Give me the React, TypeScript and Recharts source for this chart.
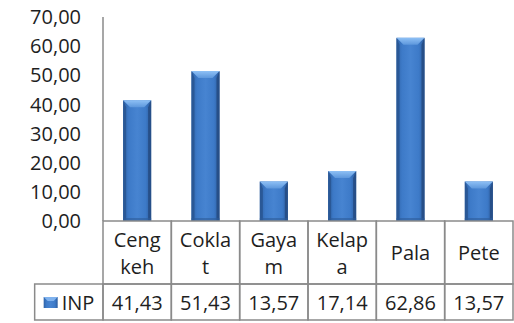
import { BarChart, Bar, XAxis, YAxis } from 'recharts';

const categories = ['Cengkeh', 'Coklat', 'Gayam', 'Kelapa', 'Pala', 'Pete'];
const labelLines = [['Ceng', 'keh'], ['Cokla', 't'], ['Gaya', 'm'], ['Kelap', 'a'], ['Pala'], ['Pete']];
const inpValues = [41.43, 51.43, 13.57, 17.14, 62.86, 13.57];
const yTicks = [0, 10, 20, 30, 40, 50, 60, 70];
const seriesName = 'INP';

const data = categories.map((name, i) => ({ name, inp: inpValues[i] }));

const FONT = '"Open Sans", sans-serif';
const TEXT = '#1e1e1e';
const BORDER = '#8a8a8a';
const ROW1 = 63;
const ROW2 = 36;

const fmt = (v: number) => v.toFixed(2).replace('.', ',');

function BevelBar(props: any) {
  const { x, y, width, height } = props;
  if (!height || height <= 0) return null;
  const b = Math.min(7, height / 2);
  const s = 3;
  return (
    <g>
      <rect x={x} y={y} width={width} height={height} fill="url(#barBody)" />
      <polygon points={`${x},${y} ${x + s},${y + b} ${x + s},${y + height} ${x},${y + height}`} fill="#2a5896" />
      <polygon points={`${x + width},${y} ${x + width - s},${y + b} ${x + width - s},${y + height} ${x + width},${y + height}`} fill="#274f88" />
      <polygon points={`${x},${y} ${x + width},${y} ${x + width - b},${y + b} ${x + b},${y + b}`} fill="url(#barTop)" />
      <rect x={x} y={y + height - 3} width={width} height={3} fill="#2d5c9a" opacity={0.6} />
    </g>
  );
}

function TableTick(props: any) {
  const { x, y, payload, index, width, visibleTicksCount } = props;
  const band = width / visibleTicksCount;
  const left = x - band / 2;
  const lines = labelLines[index] || [payload.value];
  const lh = 27;
  const startY = y + ROW1 / 2 - ((lines.length - 1) * lh) / 2;
  return (
    <g>
      <rect x={left} y={y} width={band} height={ROW1} fill="none" stroke={BORDER} strokeWidth={1.5} />
      <rect x={left} y={y + ROW1} width={band} height={ROW2} fill="none" stroke={BORDER} strokeWidth={1.5} />
      {lines.map((t: string, k: number) => (
        <text key={k} x={x} y={startY + k * lh} textAnchor="middle" dominantBaseline="central"
          fill={TEXT} fontSize={20} fontFamily={FONT}>{t}</text>
      ))}
      <text x={x} y={y + ROW1 + ROW2 / 2} textAnchor="middle" dominantBaseline="central"
        fill={TEXT} fontSize={20} fontFamily={FONT}>{fmt(inpValues[index])}</text>
      {index === 0 && (
        <g>
          <rect x={left - band} y={y + ROW1} width={band} height={ROW2} fill="none" stroke={BORDER} strokeWidth={1.5} />
          <rect x={left - band + 9} y={y + ROW1 + 13} width={14} height={11} fill="url(#barBody)" />
          <polygon points={`${left - band + 9},${y + ROW1 + 13} ${left - band + 23},${y + ROW1 + 13} ${left - band + 19},${y + ROW1 + 17} ${left - band + 13},${y + ROW1 + 17}`} fill="#7fb2ee" />
          <text x={left - band + 27} y={y + ROW1 + ROW2 / 2} dominantBaseline="central"
            fill={TEXT} fontSize={20} fontFamily={FONT}>{seriesName}</text>
        </g>
      )}
    </g>
  );
}

export default function App() {
  return (
    <div style={{ position: 'absolute', left: 0, top: 0, background: '#fff' }}>
      <BarChart width={514} height={323} data={data}
        margin={{ top: 17, right: 1, bottom: 3, left: 0 }}
        barCategoryGap="29.5%">
        <defs>
          <linearGradient id="barBody" x1="0" y1="0" x2="1" y2="0">
            <stop offset="0%" stopColor="#2f63a8" />
            <stop offset="20%" stopColor="#3d7ac8" />
            <stop offset="50%" stopColor="#4784d1" />
            <stop offset="80%" stopColor="#3d7ac8" />
            <stop offset="100%" stopColor="#2c5c9e" />
          </linearGradient>
          <linearGradient id="barTop" x1="0" y1="0" x2="0" y2="1">
            <stop offset="0%" stopColor="#8ec0f5" />
            <stop offset="100%" stopColor="#5d97dc" />
          </linearGradient>
        </defs>
        <YAxis domain={[0, 70]} ticks={yTicks} width={103} tickFormatter={fmt}
          axisLine={{ stroke: BORDER, strokeWidth: 1.5 }} tickLine={false} tickSize={0} tickMargin={22}
          tick={{ fill: TEXT, fontSize: 20, fontFamily: FONT }} />
        <XAxis dataKey="name" height={ROW1 + ROW2} interval={0} axisLine={false} tickLine={false}
          tickSize={0} tickMargin={0} tick={<TableTick />} />
        <Bar dataKey="inp" name={seriesName} shape={<BevelBar />} isAnimationActive={false} />
      </BarChart>
    </div>
  );
}
